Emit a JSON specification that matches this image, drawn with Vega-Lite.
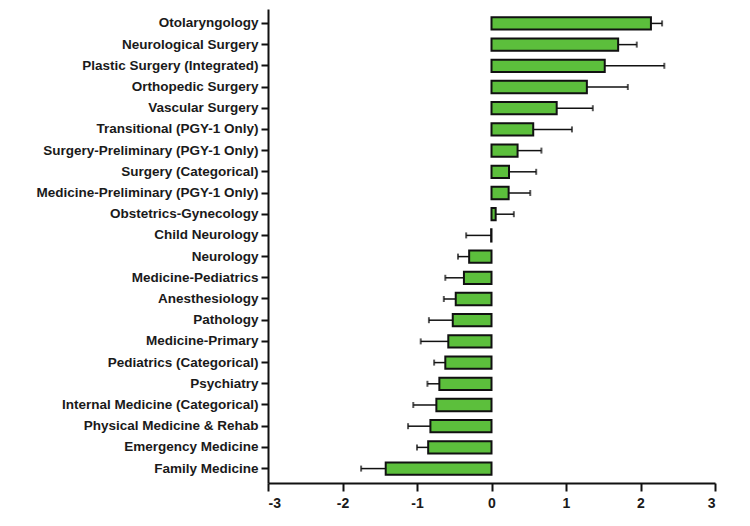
{
  "$schema": "https://vega.github.io/schema/vega-lite/v6.json",
  "autosize": {"type": "none"},
  "width": 447,
  "height": 474,
  "padding": {"left": 268, "top": 9, "right": 35, "bottom": 43},
  "background": "white",
  "config": {
    "view": {"stroke": null},
    "font": "Liberation Sans",
    "axis": {"domainColor": "#111", "tickColor": "#111", "labelColor": "#1a1a1a", "grid": false, "title": null}
  },
  "data": {
    "values": [
      {"program": "Otolaryngology", "mean": 2.14, "err": 2.29},
      {"program": "Neurological Surgery", "mean": 1.70, "err": 1.95},
      {"program": "Plastic Surgery (Integrated)", "mean": 1.52, "err": 2.32},
      {"program": "Orthopedic Surgery", "mean": 1.28, "err": 1.83},
      {"program": "Vascular Surgery", "mean": 0.875, "err": 1.36},
      {"program": "Transitional (PGY-1 Only)", "mean": 0.56, "err": 1.08},
      {"program": "Surgery-Preliminary (PGY-1 Only)", "mean": 0.35, "err": 0.67},
      {"program": "Surgery (Categorical)", "mean": 0.235, "err": 0.60},
      {"program": "Medicine-Preliminary (PGY-1 Only)", "mean": 0.23, "err": 0.52},
      {"program": "Obstetrics-Gynecology", "mean": 0.056, "err": 0.30},
      {"program": "Child Neurology", "mean": -0.005, "err": -0.34},
      {"program": "Neurology", "mean": -0.30, "err": -0.45},
      {"program": "Medicine-Pediatrics", "mean": -0.37, "err": -0.62},
      {"program": "Anesthesiology", "mean": -0.48, "err": -0.64},
      {"program": "Pathology", "mean": -0.52, "err": -0.84},
      {"program": "Medicine-Primary", "mean": -0.58, "err": -0.95},
      {"program": "Pediatrics (Categorical)", "mean": -0.62, "err": -0.77},
      {"program": "Psychiatry", "mean": -0.70, "err": -0.86},
      {"program": "Internal Medicine (Categorical)", "mean": -0.74, "err": -1.05},
      {"program": "Physical Medicine & Rehab", "mean": -0.82, "err": -1.12},
      {"program": "Emergency Medicine", "mean": -0.85, "err": -1.00},
      {"program": "Family Medicine", "mean": -1.42, "err": -1.75}
    ]
  },
  "encoding": {
    "y": {
      "field": "program",
      "type": "nominal",
      "sort": null,
      "scale": {"paddingInner": 0.42, "paddingOuter": 0.39},
      "axis": {
        "labelFontWeight": "bold",
        "labelFontSize": 13.5,
        "labelLimit": 400,
        "labelPadding": 3,
        "tickSize": 7,
        "tickWidth": 2,
        "domainWidth": 2
      }
    }
  },
  "layer": [
    {
      "mark": {"type": "rule", "stroke": "#111", "strokeWidth": 1.5},
      "encoding": {
        "x": {"field": "mean", "type": "quantitative"},
        "x2": {"field": "err"}
      }
    },
    {
      "mark": {"type": "tick", "orient": "vertical", "color": "#111", "size": 6, "thickness": 2},
      "encoding": {
        "x": {"field": "err", "type": "quantitative"}
      }
    },
    {
      "mark": {"type": "bar", "fill": "#5cbf3c", "stroke": "#111", "strokeWidth": 2},
      "encoding": {
        "x": {
          "field": "mean",
          "type": "quantitative",
          "scale": {"domain": [-3, 3], "nice": false},
          "axis": {
            "values": [-3, -2, -1, 0, 1, 2, 3],
            "labelExpr": "'' + datum.value",
            "labelFontWeight": "bold",
            "labelFontSize": 14,
            "labelPadding": 5,
            "tickSize": 8,
            "tickWidth": 2,
            "domainWidth": 2
          }
        }
      }
    },
    {
      "mark": {"type": "rule", "stroke": "#111", "strokeWidth": 2},
      "encoding": {"x": {"datum": 0}}
    }
  ]
}
